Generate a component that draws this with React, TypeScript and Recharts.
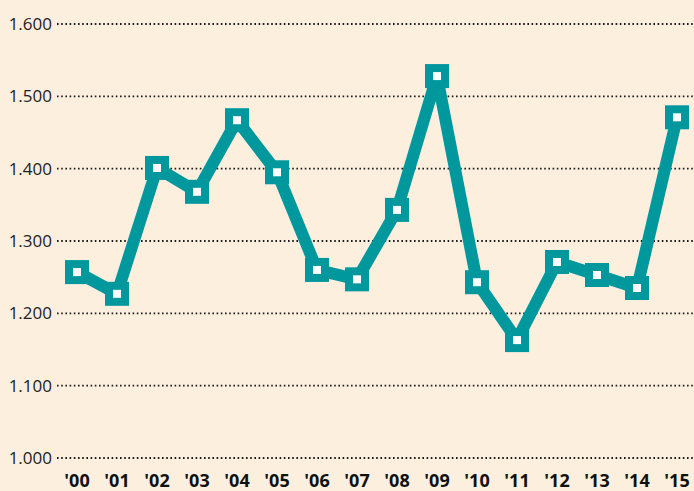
import React from "react";
import { LineChart, Line, XAxis, YAxis, CartesianGrid } from "recharts";

const years = ["'00", "'01", "'02", "'03", "'04", "'05", "'06", "'07", "'08", "'09", "'10", "'11", "'12", "'13", "'14", "'15"];
const values = [1257, 1227, 1401, 1368, 1467, 1395, 1260, 1247, 1343, 1528, 1243, 1163, 1271, 1253, 1235, 1471];
const yTicks = [1000, 1100, 1200, 1300, 1400, 1500, 1600];

const data = years.map((year, i) => ({ year, value: values[i] }));

const TEAL = "#00979d";
const BG = "#fdefde";

const SquareDot = (props: any) => {
  const { cx, cy, index } = props;
  if (cx == null || cy == null) return null;
  return (
    <rect
      key={`dot-${index}`}
      x={cx - 8}
      y={cy - 8}
      width={16}
      height={16}
      fill="#ffffff"
      stroke={TEAL}
      strokeWidth={8}
    />
  );
};

const fmt = (v: number) => (v / 1000).toFixed(3);

export default function App() {
  return (
    <div style={{ position: "absolute", left: 0, top: 0, width: 694, height: 491, background: BG }}>
      <LineChart
        width={694}
        height={491}
        data={data}
        margin={{ top: 24, right: 0, bottom: 0, left: 0 }}
      >
        <CartesianGrid
          horizontal={true}
          vertical={false}
          stroke="#1a1a1a"
          strokeWidth={1.8}
          strokeDasharray="1.6 2.6"
        />
        <XAxis
          dataKey="year"
          type="category"
          padding={{ left: 20, right: 17 }}
          axisLine={false}
          tickLine={false}
          tickSize={0}
          tickMargin={16}
          height={33}
          interval={0}
          tick={{ fill: "#111", fontSize: 18, fontWeight: 700, fontFamily: "'Open Sans', sans-serif" }}
        />
        <YAxis
          domain={[1000, 1600]}
          ticks={yTicks}
          width={57}
          axisLine={false}
          tickLine={false}
          tickSize={0}
          tickMargin={5}
          tickFormatter={fmt}
          tick={{ fill: "#222222", fontSize: 17, fontWeight: 400, fontFamily: "'Open Sans', sans-serif" }}
        />
        <Line
          type="linear"
          dataKey="value"
          stroke={TEAL}
          strokeWidth={12}
          strokeLinejoin="miter"
          dot={<SquareDot />}
          activeDot={false}
          isAnimationActive={false}
        />
      </LineChart>
    </div>
  );
}
